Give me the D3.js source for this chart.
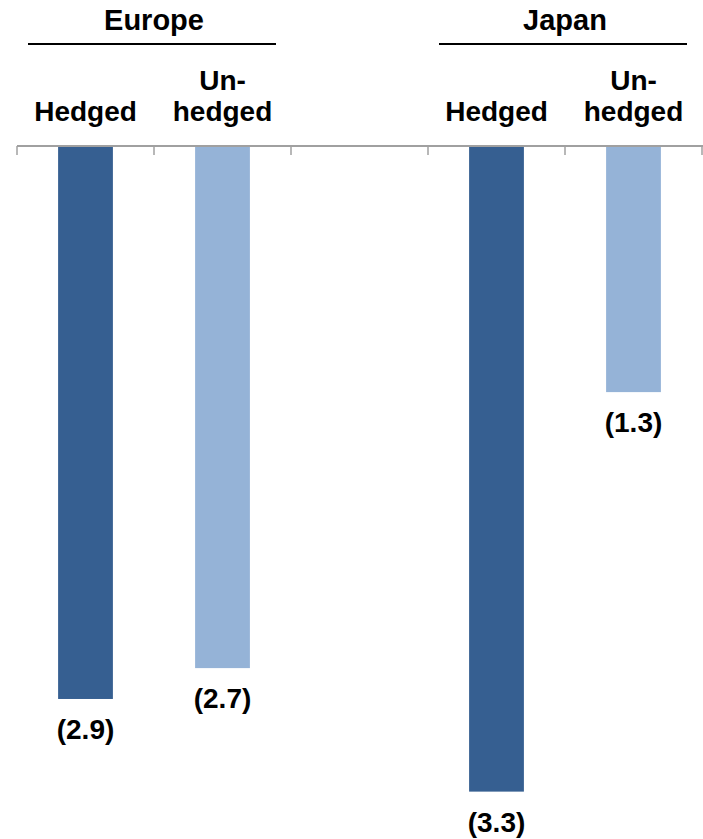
<!DOCTYPE html>
<html>
<head>
<meta charset="utf-8">
<script src="https://cdn.jsdelivr.net/npm/d3@7"></script>
<style>
  body { margin: 0; background: #fff; }
</style>
</head>
<body>
<div id="chart"></div>
<script>
(function(){
    var width = 703;
    var height = 839;

    // categories, in order along the axis ("gap" is an empty slot)
    var categories = ["EU_H", "EU_U", "gap", "JP_H", "JP_U"];
    var subLabels = [["Hedged"], ["Un-", "hedged"], [], ["Hedged"], ["Un-", "hedged"]];
    var values = [-2.86, -2.70, null, -3.34, -1.27];
    var kinds = ["hedged", "unhedged", null, "hedged", "unhedged"];
    var groups = ["Europe", "Japan"];
    var groupSpans = [["EU_H", "EU_U"], ["JP_H", "JP_U"]];

    var colours = { hedged: "#365f91", unhedged: "#95b3d7" };
    var fmt = function(v){ return "(" + d3.format(".1f")(Math.abs(v)) + ")"; };

    var svg = d3.select("#chart")
        .append("svg")
            .attr("width", width)
            .attr("height", height)
            .style("font-family", 'Arial, "Liberation Sans", Helvetica, sans-serif')
            .style("font-weight", "bold");

    var xScale = d3.scaleBand()
        .domain(categories)
        .range([17, 702])
        .paddingInner(0.6)
        .paddingOuter(0.3);

    var step = xScale.step();

    var yScale = d3.scaleLinear()
        .domain([0, -3.5])
        .range([147, 147 + 3.5 * 193]);

    // bars
    var data = categories.map(function(c, i){
        return { cat: c, value: values[i], kind: kinds[i], sub: subLabels[i] };
    });

    svg.selectAll('.bar')
        .data(data.filter(function(d){ return d.value !== null; }))
        .enter()
        .append('rect')
        .attr('class', 'bar')
        .attr('x', function(d){ return xScale(d.cat); })
        .attr('width', xScale.bandwidth())
        .attr('y', yScale(0))
        .attr('height', function(d){ return yScale(d.value) - yScale(0); })
        .attr('fill', function(d){ return colours[d.kind]; });

    // axis line with ticks at the band edges
    var edges = categories.map(function(c){ return xScale(c) - xScale.step() * 0.3; });
    edges.push(edges[edges.length - 1] + step);

    var axis = svg.append('g').attr('class', 'axis');
    axis.append('line')
        .attr('x1', edges[0]).attr('x2', 703)
        .attr('y1', yScale(0) - 1).attr('y2', yScale(0) - 1)
        .attr('stroke', '#a0a0a0')
        .attr('stroke-width', 2);
    axis.selectAll('.tick')
        .data(edges)
        .enter()
        .append('line')
        .attr('class', 'tick')
        .attr('x1', function(d){ return d; })
        .attr('x2', function(d){ return d; })
        .attr('y1', yScale(0) - 1)
        .attr('y2', yScale(0) + 8)
        .attr('stroke', '#a0a0a0')
        .attr('stroke-width', 1.5);

    // value labels under the bars
    svg.selectAll('.value')
        .data(data.filter(function(d){ return d.value !== null; }))
        .enter()
        .append('text')
        .attr('class', 'value')
        .attr('x', function(d){ return xScale(d.cat) + xScale.bandwidth() / 2; })
        .attr('y', function(d){ return yScale(d.value) + 40; })
        .attr('text-anchor', 'middle')
        .attr('font-size', '28px')
        .text(function(d){ return fmt(d.value); });

    // sub-category labels above the axis
    var subs = svg.selectAll('.sub')
        .data(data)
        .enter()
        .append('text')
        .attr('class', 'sub')
        .attr('text-anchor', 'middle')
        .attr('font-size', '28px');

    subs.selectAll('tspan')
        .data(function(d){
            var cx = xScale(d.cat) + xScale.bandwidth() / 2;
            var n = d.sub.length;
            return d.sub.map(function(s, j){ return { t: s, x: cx, y: 121 - (n - 1 - j) * 31 }; });
        })
        .enter()
        .append('tspan')
        .attr('x', function(d){ return d.x; })
        .attr('y', function(d){ return d.y; })
        .text(function(d){ return d.t; });

    // group headers with underline
    var heads = svg.selectAll('.group')
        .data(groups.map(function(g, i){
            return {
                name: g,
                x0: xScale(groupSpans[i][0]) - step * 0.3 + 11,
                x1: xScale(groupSpans[i][1]) + xScale.bandwidth() + step * 0.3 - 15
            };
        }))
        .enter()
        .append('g')
        .attr('class', 'group');

    heads.append('line')
        .attr('x1', function(d){ return d.x0; })
        .attr('x2', function(d){ return d.x1; })
        .attr('y1', 44)
        .attr('y2', 44)
        .attr('stroke', '#000')
        .attr('stroke-width', 2);

    heads.append('text')
        .attr('x', function(d){ return (d.x0 + d.x1) / 2 + 2; })
        .attr('y', 30)
        .attr('text-anchor', 'middle')
        .attr('font-size', '29px')
        .text(function(d){ return d.name; });
})();
</script>
</body>
</html>
